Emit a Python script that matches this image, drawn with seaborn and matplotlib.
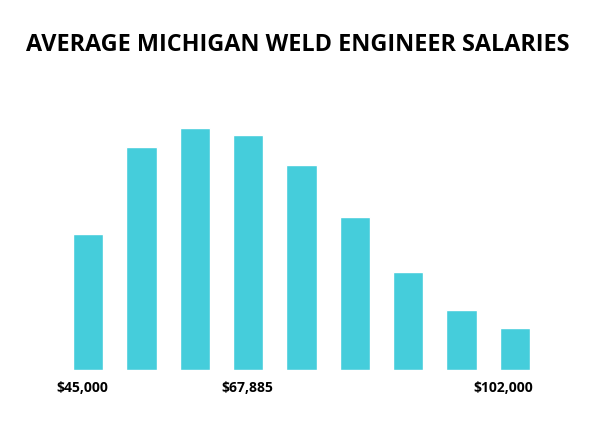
import seaborn as sns
import pandas as pd
import matplotlib.pyplot as plt

# salary bins (only three are labelled on the chart)
bins = ["b1", "b2", "b3", "b4", "b5", "b6", "b7", "b8", "b9"]
labels = ["$45,000", "$67,885", "$102,000"]
label_pos = [0, 3, 8]
heights = [136, 223, 242, 235, 205, 153, 98, 60, 42]

df = pd.DataFrame({"bin": bins, "count": heights})

sns.set_style("white")
plt.rcParams['font.family'] = ['Open Sans', 'DejaVu Sans']

fig = plt.figure(figsize=(6, 4.37), dpi=100)
ax = fig.add_axes([73 / 600, (437 - 370) / 437, (530 - 73) / 600, 250 / 437])

sns.barplot(data=df, x="bin", y="count", color="#45CDDB", saturation=1,
            width=0.57, ax=ax)

ax.set_xlim(-0.285, 8.285)
ax.set_ylim(0, 250)
ax.set_yticks([])
# labels sit a little left of their bars in the original
ax.set_xticks([p + d for p, d in zip(label_pos, [-0.11, -0.01, -0.22])])
ax.set_xticklabels(labels, fontsize=10, fontweight="bold", color="black")
ax.tick_params(axis="x", length=0, pad=8)
ax.set_xlabel("")
ax.set_ylabel("")
sns.despine(ax=ax, left=True, bottom=True)

fig.text(0.497, 1 - 45 / 437, "AVERAGE MICHIGAN WELD ENGINEER SALARIES",
         ha="center", va="center", fontsize=16.8, fontweight="bold",
         color="black")

fig.savefig("out.png", dpi=100)
